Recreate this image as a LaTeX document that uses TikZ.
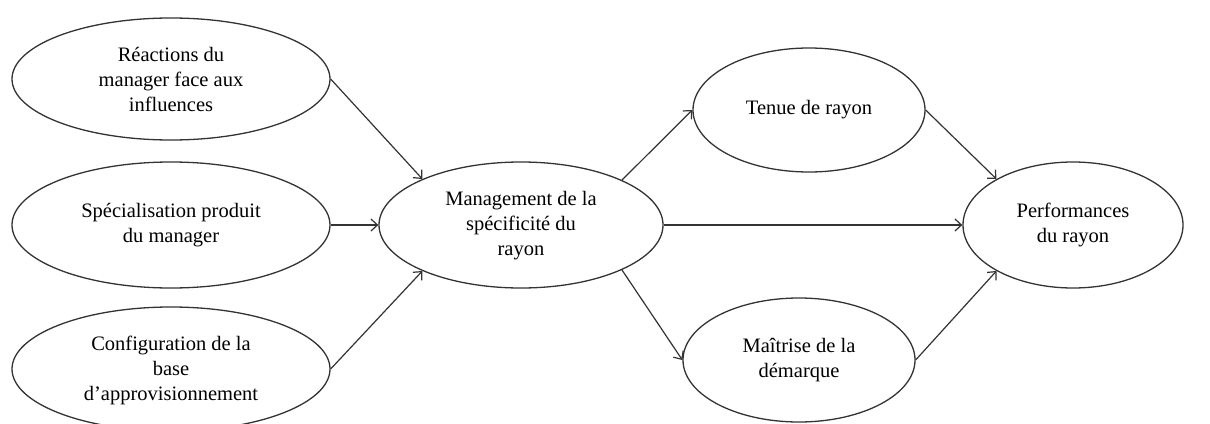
\documentclass[tikz,border=0pt]{standalone}
\usepackage{fontspec}
\setmainfont{Liberation Serif}
\usetikzlibrary{shapes.geometric,arrows.meta}
\begin{document}
\begin{tikzpicture}[x=1pt,y=-1pt,
  ell/.style={ellipse,draw=black!80,line width=1.3pt,inner sep=0pt},
  txt/.style={align=center,font=\fontsize{20.5}{25}\selectfont,inner sep=0pt},
  conn/.style={draw=black!80,line width=1.2pt,-{Straight Barb[length=6.5pt,width=12pt]}}]
\useasboundingbox (0,0) rectangle (1210,423);
\fill[white] (0,0) rectangle (1210,423);
% ellipses
\node[ell,minimum width=318pt,minimum height=122pt] (r) at (171,79) {};
\node[ell,minimum width=318pt,minimum height=126pt] (s) at (171,225) {};
\node[ell,minimum width=318pt,minimum height=124pt] (c) at (171,369) {};
\node[ell,minimum width=284pt,minimum height=126pt] (m) at (521,225) {};
\node[ell,minimum width=232pt,minimum height=124pt] (t) at (809,110) {};
\node[ell,minimum width=232pt,minimum height=124pt] (d) at (799,360) {};
\node[ell,minimum width=220pt,minimum height=126pt] (p) at (1073,225) {};
% texts
\node[txt] (rt) at (171,79) {Réactions du\\manager face aux\\influences};
\node[txt] (st) at (171,225) {Spécialisation produit\\du manager};
\node[txt] (ct) at (171,370) {Configuration de la\\base\\d’approvisionnement};
\node[txt] (mt) at (521,226) {Management de la\\spécificité du\\rayon};
\node[txt] (tt) at (809,110) {Tenue de rayon};
\node[txt] (dt) at (799,360) {Maîtrise de la\\démarque};
\node[txt] (pt) at (1073,225) {Performances\\du rayon};
% connectors
\draw[conn] (r.east) -- (m.155);
\draw[conn] (s.east) -- (m.west);
\draw[conn] (c.east) -- (m.205);
\draw[conn] (m.24) -- (t.west);
\draw[conn] (m.east) -- (p.west);
\draw[conn] (m.-24) -- (d.west);
\draw[conn] (t.east) -- (p.149);
\draw[conn] (d.east) -- (p.211);
\end{tikzpicture}
\end{document}
